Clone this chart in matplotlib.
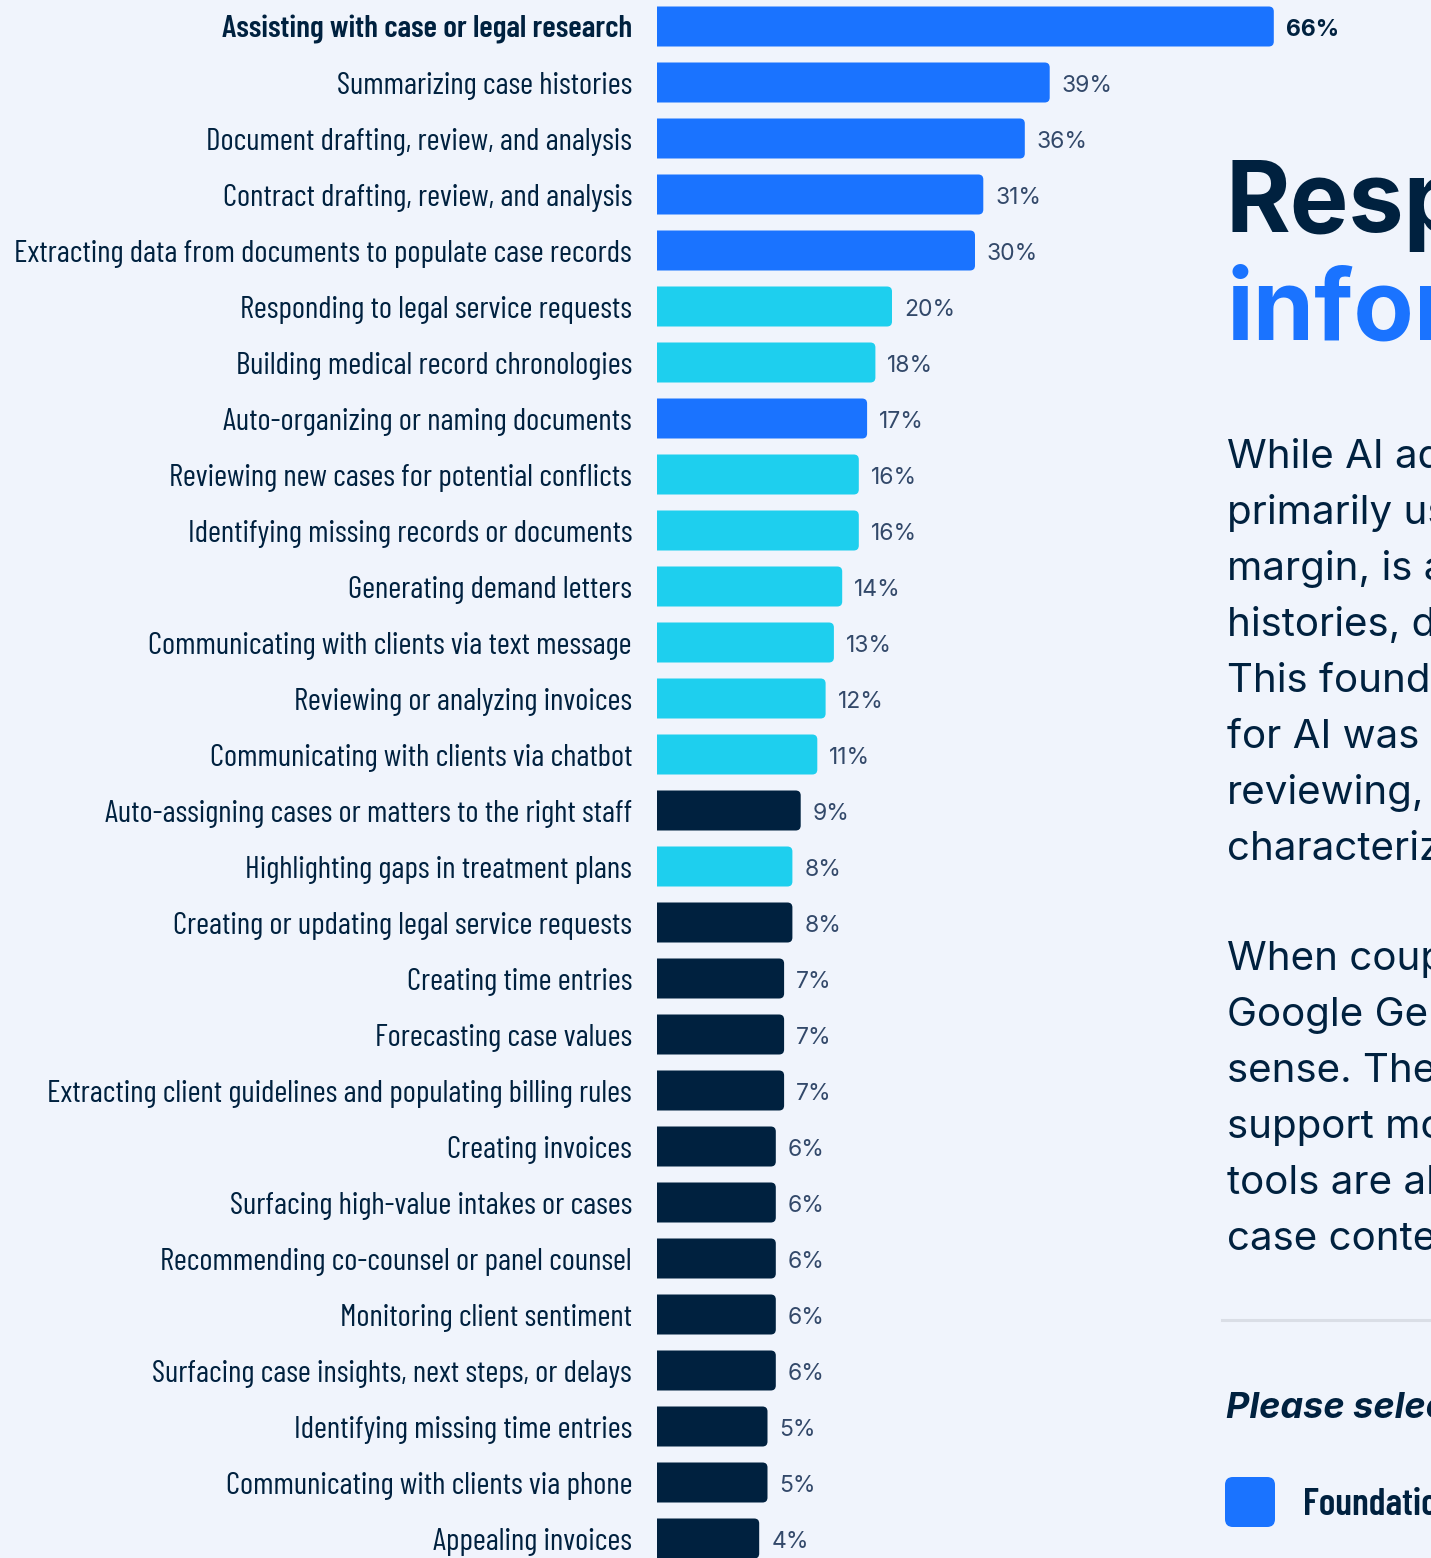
import matplotlib
matplotlib.use("Agg")
import matplotlib.pyplot as plt
from matplotlib.patches import FancyBboxPatch
from matplotlib import font_manager as fm

# ---------------- data ----------------
categories = [
    "Assisting with case or legal research",
    "Summarizing case histories",
    "Document drafting, review, and analysis",
    "Contract drafting, review, and analysis",
    "Extracting data from documents to populate case records",
    "Responding to legal service requests",
    "Building medical record chronologies",
    "Auto-organizing or naming documents",
    "Reviewing new cases for potential conflicts",
    "Identifying missing records or documents",
    "Generating demand letters",
    "Communicating with clients via text message",
    "Reviewing or analyzing invoices",
    "Communicating with clients via chatbot",
    "Auto-assigning cases or matters to the right staff",
    "Highlighting gaps in treatment plans",
    "Creating or updating legal service requests",
    "Creating time entries",
    "Forecasting case values",
    "Extracting client guidelines and populating billing rules",
    "Creating invoices",
    "Surfacing high-value intakes or cases",
    "Recommending co-counsel or panel counsel",
    "Monitoring client sentiment",
    "Surfacing case insights, next steps, or delays",
    "Identifying missing time entries",
    "Communicating with clients via phone",
    "Appealing invoices",
]
values = [66, 39, 36, 31, 30, 20, 18, 17, 16, 16, 14, 13, 12, 11, 9, 8, 8, 7, 7, 7, 6, 6, 6, 6, 6, 5, 5, 4]
groups = ["F", "F", "F", "F", "F", "C", "C", "F", "C", "C", "C", "C", "C", "C",
          "N", "C", "N", "N", "N", "N", "N", "N", "N", "N", "N", "N", "N", "N"]

heading_lines = ["Resp", "infor"]
para1 = ["While AI ad", "primarily us", "margin, is a", "histories, d",
         "This found", "for AI was", "reviewing,", "characteriz"]
para2 = ["When coup", "Google Ge", "sense. The", "support mo", "tools are al", "case conte"]
prompt_text = "Please selec"
legend_text = "Foundation"

# ---------------- style ----------------
W, H = 1431, 1558
BG = "#F0F4FC"
NAVY = "#00213F"
BLUE = "#1A73FF"
CYAN = "#1ECFEE"
VAL_COL = "#33496A"
color_map = {"F": BLUE, "C": CYAN, "N": NAVY}

names = {f.name for f in fm.fontManager.ttflist}
cond_font = "DejaVu Sans"
for cand in ["Barlow Condensed", "Roboto Condensed", "Liberation Sans Narrow"]:
    if cand in names:
        cond_font = cand
        break
sans = "Inter" if "Inter" in names else "DejaVu Sans"

fig = plt.figure(figsize=(W / 100, H / 100), dpi=100, facecolor=BG)

px_per_unit = 8.3
offset_px = 69
bar_left_px = 657
ax_w_px = W - bar_left_px
ax = fig.add_axes([bar_left_px / W, 0, ax_w_px / W, 1])
ax.set_facecolor(BG)
x0 = -offset_px / px_per_unit
ax.set_xlim(x0, x0 + ax_w_px / px_per_unit)
pitch = 56.0
top_c = 26.5
ax.set_ylim((H - top_c) / pitch, -top_c / pitch)
for s in ax.spines.values():
    s.set_visible(False)
ax.tick_params(axis="x", bottom=False, labelbottom=False)

bar_h = 40 / pitch
rx = 5 / px_per_unit
ry = 5 / pitch
n = len(values)
for i, (v, g) in enumerate(zip(values, groups)):
    p = FancyBboxPatch((x0 - 2, i - bar_h / 2), v - x0 + 2, bar_h,
                       boxstyle=f"round,pad=0,rounding_size={rx}",
                       mutation_aspect=ry / rx,
                       facecolor=color_map[g], edgecolor="none", clip_on=True)
    ax.add_patch(p)
    ax.text(v + 12 / px_per_unit, i + 9.5 / pitch, f"{v}%", ha="left", va="baseline",
            fontsize=16.5, family=sans, color=VAL_COL if i else NAVY,
            fontweight="bold" if i == 0 else "normal", clip_on=False)

ax.set_yticks(range(n))
ax.set_yticklabels(categories)
ax.tick_params(axis="y", length=0, pad=25 * 0.72)
fig.canvas.draw()
rend = fig.canvas.get_renderer()
base = 20
for t in ax.get_yticklabels():
    t.set_family(cond_font)
    t.set_fontsize(base)
    t.set_color(NAVY)
fig.canvas.draw()
longest = ax.get_yticklabels()[4]
wpx = longest.get_window_extent(rend).width
size = base * 617 / wpx
for k, t in enumerate(ax.get_yticklabels()):
    t.set_fontsize(size)
    if k == 0:
        t.set_fontweight("semibold")

def ft(xp, yp, s, **kw):
    fig.text(xp / W, 1 - yp / H, s, **kw)

# heading
ft(1226, 232, heading_lines[0], fontsize=71, fontweight="bold", family=sans, color=NAVY, va="baseline")
ft(1226, 340, heading_lines[1], fontsize=71, fontweight="bold", family=sans, color=BLUE, va="baseline")
for k, line in enumerate(para1):
    ft(1227, 468 + 56 * k, line, fontsize=29, family=sans, color=NAVY, va="baseline")
for k, line in enumerate(para2):
    ft(1227, 970 + 56 * k, line, fontsize=29, family=sans, color=NAVY, va="baseline")

fig.add_artist(plt.Line2D([1222 / W, 1], [1 - 1320 / H, 1 - 1320 / H], color="#DADEE6", lw=2.2,
                          transform=fig.transFigure))
ft(1226, 1418, prompt_text, fontsize=26, fontweight="bold", style="italic", family=sans, color=NAVY, va="baseline")
fig.add_artist(FancyBboxPatch((1225 / W, 1 - 1527 / H), 50 / W, 50 / H,
                              boxstyle="round,pad=0,rounding_size=0.0055",
                              mutation_aspect=W / H,
                              transform=fig.transFigure, facecolor=BLUE, edgecolor="none"))
ft(1303, 1515, legend_text, fontsize=27.5, fontweight="semibold", family=cond_font, color=NAVY, va="baseline")

fig.savefig("out.png", dpi=100, facecolor=BG)
